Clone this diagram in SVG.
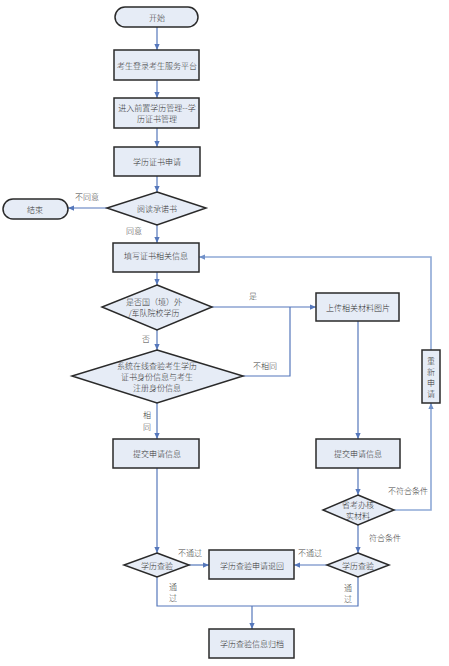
<svg xmlns="http://www.w3.org/2000/svg" width="449" height="666" viewBox="0 0 449 666">
<style>
.n{fill:#E6ECF6;stroke:#2a2a2a;stroke-width:1.5}
.t{font-family:"Noto Sans CJK SC","Liberation Sans",sans-serif;font-size:8px;font-weight:300;fill:#333;text-anchor:middle;dominant-baseline:central}
.l{font-family:"Noto Sans CJK SC","Liberation Sans",sans-serif;font-size:8px;font-weight:300;fill:#444;text-anchor:middle;dominant-baseline:central}
.c{fill:none;stroke:#5577BB;stroke-width:1.2}
.c2{fill:none;stroke:#8EA9D6;stroke-width:1.6}
</style>
<defs>
<marker id="a" viewBox="0 0 8 8" refX="8" refY="4" markerWidth="6" markerHeight="6" orient="auto" markerUnits="userSpaceOnUse">
<path d="M0,0.5 L8,4 L0,7.5 Z" fill="#5577BB"/>
</marker>
<marker id="a2" viewBox="0 0 8 8" refX="8" refY="4" markerWidth="6" markerHeight="6" orient="auto" markerUnits="userSpaceOnUse">
<path d="M0,0.5 L8,4 L0,7.5 Z" fill="#7090C8"/>
</marker>
</defs>
<rect width="449" height="666" fill="#fff"/>

<g id="connectors">
<path class="c" d="M157,27 V50" marker-end="url(#a)"/>
<path class="c" d="M157,80 V98" marker-end="url(#a)"/>
<path class="c" d="M157,128 V147" marker-end="url(#a)"/>
<path class="c" d="M157,176 V192" marker-end="url(#a)"/>
<path class="c" d="M107,208 H68" marker-end="url(#a)"/>
<path class="c" d="M157,225 V243" marker-end="url(#a)"/>
<path class="c" d="M157,272 V285" marker-end="url(#a)"/>
<path class="c" d="M157,330 V350" marker-end="url(#a)"/>
<path class="c" d="M157,403 V439" marker-end="url(#a)"/>
<path class="c" d="M157,468 V553" marker-end="url(#a)"/>
<path class="c" d="M212,307 H316" marker-end="url(#a)"/>
<path class="c" d="M243,376 H290 V307"/>
<path class="c" d="M358,321 V439" marker-end="url(#a)"/>
<path class="c" d="M358,468 V495" marker-end="url(#a)"/>
<path class="c2" d="M394,510 H431 V403" marker-end="url(#a2)"/>
<path class="c2" d="M431,350 V257 H199" marker-end="url(#a2)"/>
<path class="c" d="M358,525 V553" marker-end="url(#a)"/>
<path class="c" d="M189,565 H209" marker-end="url(#a)"/>
<path class="c" d="M327,565 H294" marker-end="url(#a)"/>
<path class="c" d="M157,577 V606 H358 V577"/>
<path class="c" d="M252,606 V629" marker-end="url(#a)"/>
</g>

<g id="labels">
<text class="l" x="87" y="196">不同意</text>
<text class="l" x="134" y="230">同意</text>
<text class="l" x="253" y="295">是</text>
<text class="l" x="146" y="338">否</text>
<text class="l" x="265" y="365">不相同</text>
<text class="l" x="147" y="414">相</text>
<text class="l" x="147" y="426">同</text>
<text class="l" x="408" y="490">不符合条件</text>
<text class="l" x="385" y="537">符合条件</text>
<text class="l" x="190" y="552">不通过</text>
<text class="l" x="310" y="552">不通过</text>
<text class="l" x="173" y="586">通</text>
<text class="l" x="173" y="597">过</text>
<text class="l" x="348" y="587">通</text>
<text class="l" x="348" y="598">过</text>
</g>

<g id="start">
<rect class="n" x="115" y="7" width="83" height="20" rx="10"/>
<text class="t" x="157" y="17">开始</text>
</g>
<g id="login">
<rect class="n" x="114" y="50" width="85" height="30"/>
<text class="t" x="157" y="65">考生登录考生服务平台</text>
</g>
<g id="enter">
<rect class="n" x="114" y="98" width="85" height="30"/>
<text class="t" x="157" y="107.5">进入前置学历管理--学</text>
<text class="t" x="157" y="118.5">历证书管理</text>
</g>
<g id="apply">
<rect class="n" x="114" y="147" width="86" height="29"/>
<text class="t" x="157" y="161">学历证书申请</text>
</g>
<g id="read">
<path class="n" d="M157,192 L206,208 L157,225 L107,208 Z"/>
<text class="t" x="157" y="208">阅读承诺书</text>
</g>
<g id="end">
<rect class="n" x="3" y="199" width="65" height="20" rx="10"/>
<text class="t" x="35" y="209">结束</text>
</g>
<g id="fill">
<rect class="n" x="113" y="243" width="86" height="29"/>
<text class="t" x="156" y="255">填写证书相关信息</text>
</g>
<g id="foreign">
<path class="n" d="M157,285 L212,307 L157,330 L102,307 Z"/>
<text class="t" x="154" y="301.5">是否国（境）外</text>
<text class="t" x="154" y="312.5">/军队院校学历</text>
</g>
<g id="verify">
<path class="n" d="M157,350 L243,376 L157,403 L72,376 Z"/>
<text class="t" x="157" y="365">系统在线查验考生学历</text>
<text class="t" x="157" y="376">证书身份信息与考生</text>
<text class="t" x="157" y="387">注册身份信息</text>
</g>
<g id="upload">
<rect class="n" x="316" y="293" width="83" height="28"/>
<text class="t" x="358" y="307">上传相关材料图片</text>
</g>
<g id="reapply">
<rect class="n" x="422" y="350" width="18" height="53"/>
<text class="t" x="431" y="360">重</text>
<text class="t" x="431" y="371">新</text>
<text class="t" x="431" y="382">申</text>
<text class="t" x="431" y="393">请</text>
</g>
<g id="submitL">
<rect class="n" x="113" y="439" width="86" height="29"/>
<text class="t" x="157" y="453">提交申请信息</text>
</g>
<g id="submitR">
<rect class="n" x="316" y="439" width="84" height="29"/>
<text class="t" x="358" y="453">提交申请信息</text>
</g>
<g id="check">
<path class="n" d="M358,495 L394,510 L358,525 L323,510 Z"/>
<text class="t" x="358" y="504">省考办核</text>
<text class="t" x="358" y="515">实材料</text>
</g>
<g id="verifyL">
<path class="n" d="M157,553 L189,565 L157,577 L124,565 Z"/>
<text class="t" x="157" y="565">学历查验</text>
</g>
<g id="verifyR">
<path class="n" d="M358,553 L389,565 L358,577 L327,565 Z"/>
<text class="t" x="358" y="565">学历查验</text>
</g>
<g id="returned">
<rect class="n" x="209" y="550" width="85" height="29"/>
<text class="t" x="252" y="565">学历查验申请退回</text>
</g>
<g id="archive">
<rect class="n" x="209" y="629" width="85" height="29"/>
<text class="t" x="252" y="643">学历查验信息归档</text>
</g>
</svg>
